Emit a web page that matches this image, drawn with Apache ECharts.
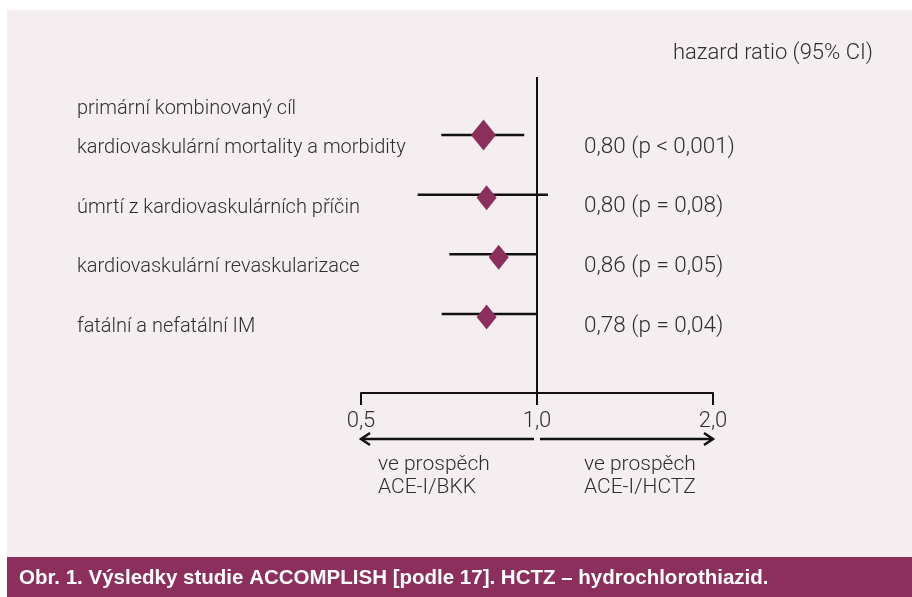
<!DOCTYPE html>
<html><head><meta charset="utf-8">
<script src="https://cdn.jsdelivr.net/npm/echarts@6/dist/echarts.min.js"></script>
<style>html,body{margin:0;padding:0;background:#fff}#c{width:912px;height:597px}</style>
</head><body><div id="c"></div>
<script>
// ---- data ----
const rowLabels = [
  "primární kombinovaný cíl\nkardiovaskulární mortality a morbidity",
  "úmrtí z kardiovaskulárních příčin",
  "kardiovaskulární revaskularizace",
  "fatální a nefatální IM"
];
const hazardRatio = [0.81, 0.82, 0.86, 0.82];
const ciLower = [0.686, 0.625, 0.708, 0.687];
const ciUpper = [0.951, 1.044, 1.0, 1.0];
const resultLabels = ["0,80 (p < 0,001)", "0,80 (p = 0,08)", "0,86 (p = 0,05)", "0,78 (p = 0,04)"];
const tickValues = [0.5, 1, 2];
const tickLabels = ["0,5", "1,0", "2,0"];
const favourLeft = ["ve prospěch", "ACE-I/BKK"];
const favourRight = ["ve prospěch", "ACE-I/HCTZ"];
const columnHeader = "hazard ratio (95% CI)";
const caption = "Obr. 1. Výsledky studie ACCOMPLISH [podle 17]. HCTZ – hydrochlorothiazid.";

// ---- style ----
const FONT = "Roboto";
const FW = 300;
const TXT = "#2e2e2e";
const INK = "#111";
const PURPLE = "#8c2f5c";
const PINK = "#f4eef0";

const chart = echarts.init(document.getElementById('c'), null, {renderer: 'canvas'});
const rows = rowLabels.map((_, i) => i);
const ciData = rows.map(i => [ciLower[i], ciUpper[i], i]);
const hrData = rows.map(i => ({
  value: [hazardRatio[i], i],
  symbolSize: i === 0 ? [25, 31] : [20, 25],
  symbolOffset: i === 0 ? [0, 0] : [0, 3]
}));

function txt(text, x, y, align, size) {
  return {type: 'text', style: {text, x, y, fill: TXT, fontFamily: FONT, fontWeight: FW, fontSize: size || 20, align: align || 'left', verticalAlign: 'middle'}};
}

function renderItem(params, api) {
  const i = api.value(2);
  const a = api.coord([api.value(0), i]);
  const b = api.coord([api.value(1), i]);
  const y = a[1];
  const lines = rowLabels[i].split('\n');
  const children = [{type: 'line', shape: {x1: a[0], y1: y, x2: b[0], y2: y}, style: {stroke: INK, lineWidth: 2.5}}];
  lines.forEach((t, k) => children.push(txt(t, 77, y + 13 - (lines.length - 1 - k) * 39)));
  children.push(txt(resultLabels[i], 584, y + 12, 'left', 22.5));
  return {type: 'group', children};
}

chart.setOption({
  backgroundColor: '#fff',
  animation: false,
  grid: {left: 361, right: 199, top: 77, bottom: 204},
  xAxis: {
    type: 'log', logBase: 2, min: 0.5, max: 2, position: 'bottom',
    axisLine: {onZero: false, lineStyle: {color: INK, width: 2}},
    axisTick: {length: 12, lineStyle: {color: INK, width: 2}},
    splitLine: {show: false},
    axisLabel: {
      formatter: v => { const k = tickValues.findIndex(t => Math.abs(t - v) < 1e-6); return k >= 0 ? tickLabels[k] : ''; },
      fontFamily: FONT, fontWeight: FW, fontSize: 22, color: TXT, margin: 17
    }
  },
  yAxis: {type: 'value', inverse: true, min: -0.975, max: 4.327, show: false},
  series: [
    {type: 'custom', renderItem, data: ciData, encode: {x: [0, 1], y: 2}, z: 3, clip: false},
    {type: 'scatter', data: hrData, symbol: 'diamond', itemStyle: {color: PURPLE, opacity: 1}, z: 4,
     markLine: {silent: true, symbol: 'none', label: {show: false}, lineStyle: {color: INK, width: 2, type: 'solid'}, data: [{xAxis: 1}]}}
  ]
});

const px = v => chart.convertToPixel({xAxisIndex: 0}, v);
const x05 = px(tickValues[0]), x1 = px(tickValues[1]), x2 = px(tickValues[2]);
const ay = 439;
function arrow(xs, xe) {
  const d = xe > xs ? 1 : -1;
  return [
    {type: 'line', shape: {x1: xs, y1: ay, x2: xe, y2: ay}, style: {stroke: INK, lineWidth: 2.5}},
    {type: 'polyline', shape: {points: [[xe - d * 9, ay - 6], [xe, ay], [xe - d * 9, ay + 6]]}, style: {stroke: INK, lineWidth: 2.5, fill: null}}
  ];
}
const g = [
  {type: 'rect', shape: {x: 7, y: 10, width: 905, height: 547}, style: {fill: PINK}, z: -100, silent: true},
  {type: 'rect', shape: {x: 7, y: 557, width: 905, height: 40}, style: {fill: PURPLE}, z: -100, silent: true},
  {type: 'text', style: {text: caption, x: 19, y: 578, fill: '#fff', fontFamily: 'Liberation Sans', fontWeight: 'bold', fontSize: 20.5, align: 'left', verticalAlign: 'middle'}},
  txt(columnHeader, 873, 53, 'right', 22),
  ...arrow(x1 - 3, x05),
  ...arrow(x1 + 3, x2),
  txt(favourLeft[0], x05 + 17, 465, 'left', 21), txt(favourLeft[1], x05 + 17, 488, 'left', 21),
  txt(favourRight[0], x1 + 47, 465, 'left', 21), txt(favourRight[1], x1 + 47, 488, 'left', 21)
];
chart.setOption({graphic: g});
</script></body></html>
